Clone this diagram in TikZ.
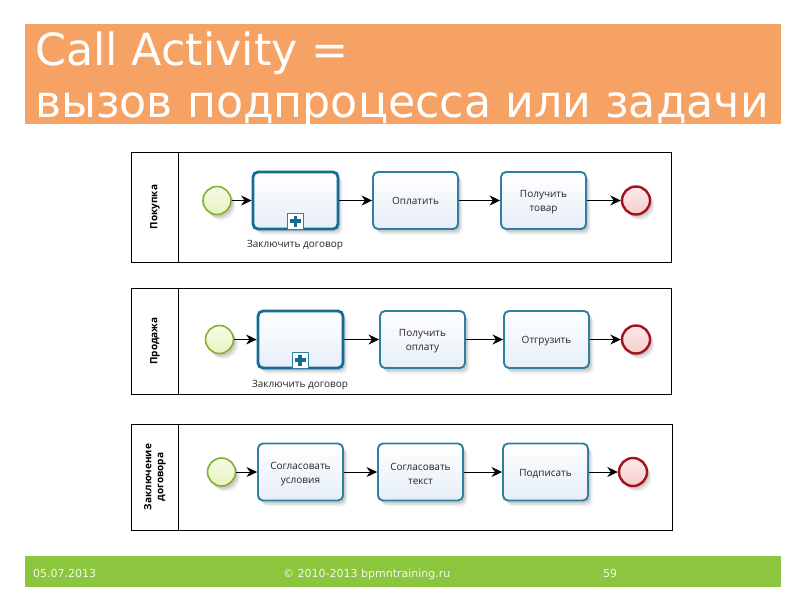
\documentclass[tikz,border=0pt]{standalone}
\usepackage{fontspec}
\setmainfont{DejaVu Sans}
\newfontfamily\bpmnfont{Open Sans}
\usetikzlibrary{arrows.meta,shadows}
\definecolor{hdr}{HTML}{F5A264}
\definecolor{ftr}{HTML}{8CC63F}
\definecolor{tskline}{HTML}{2F7FA3}
\definecolor{callline}{HTML}{146C96}
\definecolor{startline}{HTML}{84B032}
\definecolor{endline}{HTML}{A5121E}
\definecolor{tskfill}{HTML}{E6EEF8}
\definecolor{startfill}{HTML}{E8F4C0}
\definecolor{endfill}{HTML}{F6CCCC}
\tikzset{
 x=1pt,y=-1pt,
 softshadow/.style={
   drop shadow={shadow xshift=2pt,shadow yshift=-2.5pt,opacity=.08,fill=black},
   drop shadow={shadow xshift=3pt,shadow yshift=-4pt,opacity=.08,fill=black},
   drop shadow={shadow xshift=4.5pt,shadow yshift=-5.5pt,opacity=.06,fill=black}},
 pool/.style={draw=black,line width=0.9pt,fill=white,minimum width=#1,anchor=north west,inner sep=0pt,outer sep=0pt},
 tskbox/.style={draw=tskline,line width=1.9pt,rounded corners=5pt,minimum width=85pt,minimum height=57pt,inner sep=1pt,
   top color=white,bottom color=tskfill,softshadow},
 tsktext/.style={align=center,font=\bpmnfont\fontsize{10}{14}\selectfont,text=black!85,yshift=-2pt},
 callbox/.style={tskbox,draw=callline,line width=2.8pt},
 marker/.style={draw=tskline,line width=1pt,fill=white,minimum size=16pt,inner sep=0pt},
 plusbar/.style={draw=callline,line width=3.4pt},
 startev/.style={circle,draw=startline,line width=1.6pt,minimum size=28pt,inner sep=0pt,top color=white!60!startfill,bottom color=startfill,
   softshadow},
 endev/.style={circle,draw=endline,line width=2.4pt,minimum size=28pt,inner sep=0pt,top color=white!60!endfill,bottom color=endfill,
   softshadow},
 flow/.style={draw=black,line width=0.9pt,-{Stealth[length=10.5pt,width=10pt]}},
 poollabel/.style={rotate=90,font=\bpmnfont\fontsize{10}{12}\selectfont\bfseries,align=center,text=black},
 calllabel/.style={font=\bpmnfont\fontsize{10}{12}\selectfont,text=black!85},
 foot/.style={font=\fontsize{11}{13}\selectfont,text=white!88!ftr,anchor=base west,inner sep=0pt},
 titleline/.style={font=\fontsize{44.3}{50}\selectfont,text=white,anchor=base west,inner sep=0pt}
}
\begin{document}
\begin{tikzpicture}
\useasboundingbox (0,0) rectangle (800,600);
\fill[white] (0,0) rectangle (800,600);
% header
\node[fill=hdr,minimum width=756pt,minimum height=100pt,inner sep=0pt,anchor=north west] (hd) at (25,24) {};
\node[titleline] (t1) at (35,65) {Call Activity =};
\node[titleline] (t2) at (35,117.5) {вызов подпроцесса или задачи};
% footer
\node[fill=ftr,minimum width=756pt,minimum height=31pt,inner sep=0pt,anchor=north west] (ft) at (25,556) {};
\node[foot] (f1) at (33,577) {05.07.2013};
\node[foot] (f2) at (283,577) {© 2010-2013 bpmntraining.ru};
\node[foot] (f3) at (603,577) {59};
% pool 1
\node[pool=540pt,minimum height=110pt] (p1) at (131,152) {};
\draw[black,line width=0.9pt] (178,152) -- (178,262);
\node[poollabel] (l1) at (155,207) {Покупка};
\node[startev] (s1) at (217,200.5) {};
\node[callbox] (a1) at (295.5,200.5) {};
\node[marker] (m1) at (295.5,221) {};
\draw[plusbar] ([xshift=-5.5pt]m1.center) -- ([xshift=5.5pt]m1.center);
\draw[plusbar] ([yshift=-5.5pt]m1.center) -- ([yshift=5.5pt]m1.center);
\node[calllabel] (c1) at (295,245) {Заключить договор};
\node[tskbox,label={[tsktext,yshift=2pt]center:Оплатить}] (b1) at (415.5,200.5) {};
\node[tskbox,label={[tsktext]center:{Получить\\товар}}] (d1) at (543.5,200.5) {};
\node[endev] (e1) at (636,200.5) {};
\draw[flow] (s1) -- (a1);
\draw[flow] (a1) -- (b1);
\draw[flow] (b1) -- (d1);
\draw[flow] (d1) -- (e1);
% pool 2
\node[pool=540pt,minimum height=106pt] (p2) at (131,288) {};
\draw[black,line width=0.9pt] (178,288) -- (178,394);
\node[poollabel] (l2) at (155,341) {Продажа};
\node[startev] (s2) at (219.5,339.5) {};
\node[callbox] (a2) at (300.5,339.5) {};
\node[marker] (m2) at (300,360) {};
\draw[plusbar] ([xshift=-5.5pt]m2.center) -- ([xshift=5.5pt]m2.center);
\draw[plusbar] ([yshift=-5.5pt]m2.center) -- ([yshift=5.5pt]m2.center);
\node[calllabel] (c2) at (300,385) {Заключить договор};
\node[tskbox,label={[tsktext]center:{Получить\\оплату}}] (b2) at (422.5,339.5) {};
\node[tskbox,label={[tsktext]center:Отгрузить}] (d2) at (546.5,339.5) {};
\node[endev] (e2) at (636,339.5) {};
\draw[flow] (s2) -- (a2);
\draw[flow] (a2) -- (b2);
\draw[flow] (b2) -- (d2);
\draw[flow] (d2) -- (e2);
% pool 3
\node[pool=541pt,minimum height=106pt] (p3) at (131,424.5) {};
\draw[black,line width=0.9pt] (178,424.5) -- (178,530.5);
\node[poollabel] (l3) at (155,477) {Заключение\\договора};
\node[startev] (s3) at (221.5,472) {};
\node[tskbox,label={[tsktext]center:{Согласовать\\условия}}] (a3) at (300.5,472) {};
\node[tskbox,label={[tsktext]center:{Согласовать\\текст}}] (b3) at (420.5,472) {};
\node[tskbox,label={[tsktext]center:Подписать}] (d3) at (545.5,472) {};
\node[endev] (e3) at (633,472) {};
\draw[flow] (s3) -- (a3);
\draw[flow] (a3) -- (b3);
\draw[flow] (b3) -- (d3);
\draw[flow] (d3) -- (e3);
\end{tikzpicture}
\end{document}
